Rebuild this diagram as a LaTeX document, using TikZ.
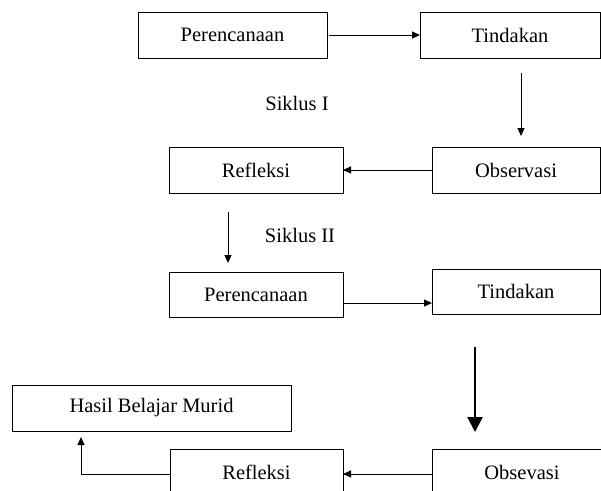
\documentclass[tikz,border=0pt]{standalone}
\usepackage{fontspec}
\setmainfont{Liberation Serif}
\usetikzlibrary{calc,arrows.meta}
\begin{document}
\begin{tikzpicture}[x=1pt,y=-1pt,
  box/.style={draw, line width=0.9pt, rectangle, inner sep=0pt, outer sep=0pt,
    font=\fontsize{20.5}{22}\selectfont},
  lbl/.style={inner sep=0pt, font=\fontsize{20.5}{22}\selectfont},
  arr/.style={line width=1pt, -{Triangle[length=8pt,width=7pt]}},
  bigarr/.style={line width=2.2pt, -{Triangle[length=15pt,width=15pt]}}]
\useasboundingbox (0,0) rectangle (601,490);
\clip (0,0) rectangle (601,490);
\node[box, minimum width=189pt, minimum height=46pt] (P1) at (232.5,35) {Perencanaan};
\node[box, minimum width=180pt, minimum height=46pt] (T1) at (510,35) {Tindakan};
\node[box, minimum width=174pt, minimum height=46pt] (R1) at (256,170) {Refleksi};
\node[box, minimum width=168pt, minimum height=46pt] (O1) at (516,170) {Observasi};
\node[box, minimum width=174pt, minimum height=45pt] (P2) at (256,294.5) {Perencanaan};
\node[box, minimum width=168pt, minimum height=45pt] (T2) at (516,291.5) {Tindakan};
\node[box, minimum width=279pt, minimum height=46pt] (H) at (151.5,408) {Hasil Belajar Murid};
\node[box, minimum width=173pt, minimum height=46pt] (R2) at (256.5,472) {Refleksi};
\node[box, minimum width=180pt, minimum height=46pt] (O2) at (522,472) {Obsevasi};
\node[lbl] (S1) at (297,103) {Siklus I};
\node[lbl] (S2) at (300,235) {Siklus II};
\draw[arr] ([xshift=2pt]P1.east) -- (T1.west);
\draw[arr] ($(T1.south)+(11,15)$) -- ($(O1.north)+(5,-11)$);
\draw[arr] (O1.west) -- (R1.east);
\draw[arr] ($(R1.south)+(-28,19)$) -- ($(P2.north)+(-28,-9)$);
\draw[arr] ($(P2.east)+(0,8.5)$) -- ($(T2.west)+(0,11.5)$);
\draw[bigarr] ($(T2.south)+(-41,33)$) -- ($(O2.north)+(-47,-17)$);
\draw[arr] ($(O2.west)+(0,2)$) -- ($(R2.east)+(0,2)$);
\coordinate (K) at ($(R2.west)+(-89,2)$);
\draw[arr] ($(R2.west)+(0,2)$) -- (K) -- ($(H.south)+(-70.5,6)$);
\end{tikzpicture}
\end{document}
